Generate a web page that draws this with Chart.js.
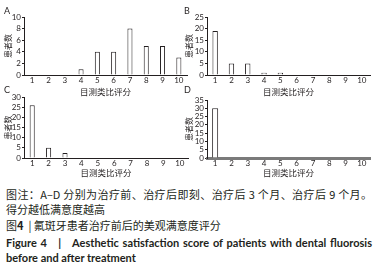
<!DOCTYPE html>
<html>
<head>
<meta charset="utf-8">
<script src="https://cdn.jsdelivr.net/npm/chart.js@4/dist/chart.umd.min.js"></script>
<style>
    body { margin: 0; background: #fff; }
    #page { position: relative; width: 381px; height: 271px; overflow: hidden; background: #fff; color: #231f20; }
    canvas { position: absolute; }
    .tag { position: absolute; font: 9px Lato, sans-serif; line-height: 9px; }
    .cap { position: absolute; left: 6px; width: 366px; font: 11px "Noto Sans CJK SC", sans-serif; line-height: 15px; white-space: nowrap; }
    .just { text-align: justify; text-align-last: justify; }
    .en { font-family: Lato, "Noto Sans CJK SC", sans-serif; font-weight: bold; }
</style>
</head>
<body>
<div id="page">
    <canvas id="chartA" width="192" height="97" style="left:0;top:0"></canvas>
    <canvas id="chartB" width="199" height="97" style="left:182px;top:0"></canvas>
    <canvas id="chartC" width="192" height="93" style="left:0;top:85px"></canvas>
    <canvas id="chartD" width="199" height="93" style="left:182px;top:85px"></canvas>

    <div class="tag" style="left:4px;top:6px">A</div>
    <div class="tag" style="left:184px;top:6px">B</div>
    <div class="tag" style="left:4px;top:85px">C</div>
    <div class="tag" style="left:184px;top:85px">D</div>

    <div class="cap just" style="top:187px">图注：A–D 分别为治疗前、治疗后即刻、治疗后 3 个月、治疗后 9 个月。</div>
    <div class="cap" style="top:202px">得分越低满意度越高</div>
    <div class="cap" style="top:218px">图<b>4</b>&nbsp;&nbsp;|&nbsp;氟斑牙患者治疗前后的美观满意度评分</div>
    <div class="cap en just" style="top:235px">Figure 4&nbsp;&nbsp;&nbsp;|&nbsp;&nbsp;&nbsp;Aesthetic satisfaction score of patients with dental fluorosis</div>
    <div class="cap en" style="top:250px">before and after treatment</div>
</div>
<script>
const scores = ['1', '2', '3', '4', '5', '6', '7', '8', '9', '10'];

// patients per score
const beforeTreatment = [0, 0, 0, 1, 4, 4, 8, 5, 5, 3];
const rightAfter = [19, 5, 5, 1, 1, 0, 0, 0, 0, 0];
const after3Months = [26, 5, 2.5, 0, 0, 0, 0, 0, 0, 0];
const after9Months = [30, 0, 0, 0, 0, 0, 0, 0, 0, 0];

const yMax = { A: 10, B: 25, C: 30, D: 35 };
const yStep = { A: 2, B: 5, C: 5, D: 5 };

const ink = '#231f20';

function makePanel(id, values, max, step, box) {
    const ctx = document.getElementById(id).getContext('2d');
    return new Chart(ctx, {
        type: 'bar',
        data: {
            labels: scores,
            datasets: [{
                data: values,
                backgroundColor: '#ffffff',
                borderColor: ink,
                borderWidth: 1,
                categoryPercentage: 1,
                barPercentage: box.bar
            }]
        },
        options: {
            responsive: false,
            animation: false,
            events: [],
            layout: { padding: { left: 0, right: box.right, top: box.top, bottom: 0 } },
            plugins: { legend: { display: false }, tooltip: { enabled: false } },
            scales: {
                x: {
                    grid: { display: false, drawTicks: false },
                    border: { display: true, color: box.xColor || ink, width: box.xWidth || 1 },
                    ticks: { color: ink, font: { family: 'Lato', size: 8 }, padding: 1, maxRotation: 0, autoSkip: false },
                    title: { display: true, text: '目测类比评分', color: ink, font: { family: 'Noto Sans CJK SC', size: 8.5 }, padding: 0 },
                    afterFit: (scale) => { scale.height = box.xh; }
                },
                y: {
                    min: 0,
                    max: max,
                    grid: { drawOnChartArea: false, tickLength: 2, color: ink },
                    border: { display: true, color: ink, width: 1 },
                    // autoSkip drops every label at this small height
                    ticks: { stepSize: step, color: ink, font: { family: 'Lato', size: 8 }, padding: 1, autoSkip: false },
                    title: { display: true, text: '患者数', color: ink, font: { family: 'Noto Sans CJK SC', size: 8 }, padding: { top: box.tp, bottom: 0 } },
                    afterFit: (scale) => { scale.width = box.yw; }
                }
            }
        }
    });
}

makePanel('chartA', beforeTreatment, yMax.A, yStep.A, { yw: 24, right: 5, top: 17, xh: 22, tp: 3, bar: 0.31 });
makePanel('chartB', rightAfter, yMax.B, yStep.B, { yw: 25, right: 11, top: 17, xh: 22, tp: 2, bar: 0.33 });
makePanel('chartC', after3Months, yMax.C, yStep.C, { yw: 24, right: 4, top: 12, xh: 20, tp: 3, bar: 0.31 });
makePanel('chartD', after9Months, yMax.D, yStep.D, { yw: 25, right: 11, top: 15, xh: 20, tp: 2, bar: 0.37, xColor: '#7a7a7a', xWidth: 3 });
</script>
</body>
</html>
